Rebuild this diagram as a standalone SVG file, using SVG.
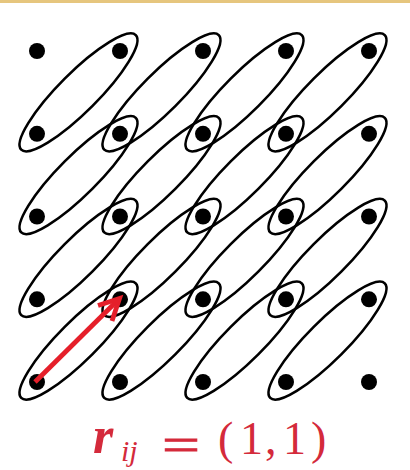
<svg xmlns="http://www.w3.org/2000/svg" xmlns:xlink="http://www.w3.org/1999/xlink" width="410" height="470" viewBox="0 0 410 470">
<style>
.dot{fill:#000}
.bond{fill:none;stroke:#000;stroke-width:2.6}
.arr{fill:none;stroke:#e51f2a;stroke-width:4.8;stroke-linecap:butt;stroke-linejoin:miter}
.m{font-family:"Liberation Serif","Times New Roman",serif;font-size:46px;fill:#d42a3b}
</style>
<defs>
<ellipse id="el" cx="0" cy="0" rx="81" ry="19.5" transform="rotate(-45)"/>
</defs>
<rect x="0" y="0" width="410" height="470" fill="#fff"/>
<rect x="0" y="0" width="410" height="3" fill="#e6c67e"/>
<g id="bonds" class="bond">
<use xlink:href="#el" x="78.5" y="92.4"/>
<use xlink:href="#el" x="161.5" y="92.4"/>
<use xlink:href="#el" x="244.5" y="92.4"/>
<use xlink:href="#el" x="327.5" y="92.4"/>
<use xlink:href="#el" x="78.5" y="175.1"/>
<use xlink:href="#el" x="161.5" y="175.1"/>
<use xlink:href="#el" x="244.5" y="175.1"/>
<use xlink:href="#el" x="327.5" y="175.1"/>
<use xlink:href="#el" x="78.5" y="257.9"/>
<use xlink:href="#el" x="161.5" y="257.9"/>
<use xlink:href="#el" x="244.5" y="257.9"/>
<use xlink:href="#el" x="327.5" y="257.9"/>
<use xlink:href="#el" x="78.5" y="340.6"/>
<use xlink:href="#el" x="161.5" y="340.6"/>
<use xlink:href="#el" x="244.5" y="340.6"/>
<use xlink:href="#el" x="327.5" y="340.6"/>
</g>
<g id="n00"><circle class="dot" cx="37" cy="51" r="8"/></g>
<g id="n10"><circle class="dot" cx="120" cy="51" r="8"/></g>
<g id="n20"><circle class="dot" cx="203" cy="51" r="8"/></g>
<g id="n30"><circle class="dot" cx="286" cy="51" r="8"/></g>
<g id="n40"><circle class="dot" cx="369" cy="51" r="8"/></g>
<g id="n01"><circle class="dot" cx="37" cy="133.8" r="8"/></g>
<g id="n11"><circle class="dot" cx="120" cy="133.8" r="8"/></g>
<g id="n21"><circle class="dot" cx="203" cy="133.8" r="8"/></g>
<g id="n31"><circle class="dot" cx="286" cy="133.8" r="8"/></g>
<g id="n41"><circle class="dot" cx="369" cy="133.8" r="8"/></g>
<g id="n02"><circle class="dot" cx="37" cy="216.5" r="8"/></g>
<g id="n12"><circle class="dot" cx="120" cy="216.5" r="8"/></g>
<g id="n22"><circle class="dot" cx="203" cy="216.5" r="8"/></g>
<g id="n32"><circle class="dot" cx="286" cy="216.5" r="8"/></g>
<g id="n42"><circle class="dot" cx="369" cy="216.5" r="8"/></g>
<g id="n03"><circle class="dot" cx="37" cy="299.3" r="8"/></g>
<g id="n13"><circle class="dot" cx="120" cy="299.3" r="8"/></g>
<g id="n23"><circle class="dot" cx="203" cy="299.3" r="8"/></g>
<g id="n33"><circle class="dot" cx="286" cy="299.3" r="8"/></g>
<g id="n43"><circle class="dot" cx="369" cy="299.3" r="8"/></g>
<g id="n04"><circle class="dot" cx="37" cy="382" r="8"/></g>
<g id="n14"><circle class="dot" cx="120" cy="382" r="8"/></g>
<g id="n24"><circle class="dot" cx="203" cy="382" r="8"/></g>
<g id="n34"><circle class="dot" cx="286" cy="382" r="8"/></g>
<g id="n44"><circle class="dot" cx="369" cy="382" r="8"/></g>
<g id="connectors">
<path class="arr" d="M35 382 L118 300"/>
<path class="arr" d="M98 305.5 L119.5 298.5 L112 321"/>
</g>
<g id="label">
<text class="m" y="453"><tspan x="93" font-weight="bold" font-style="italic" font-size="52">r</tspan><tspan x="121" y="461" font-style="italic" font-size="30">ij</tspan></text>
<text class="m" x="162" y="460" font-size="54" stroke="#d42a3b" stroke-width="0.8" textLength="38" lengthAdjust="spacingAndGlyphs">=</text>
<text class="m" y="454"><tspan x="218">(</tspan><tspan x="240">1</tspan><tspan x="265">,</tspan><tspan x="283">1</tspan><tspan x="311">)</tspan></text>
</g>
</svg>
